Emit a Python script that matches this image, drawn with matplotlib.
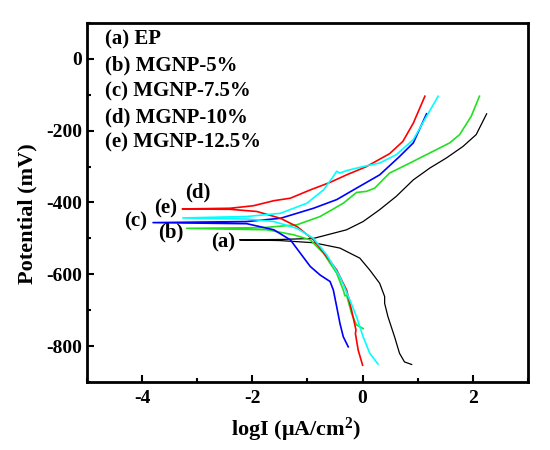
import matplotlib.pyplot as plt
from matplotlib.ticker import MultipleLocator

plt.rcParams['font.family'] = ['Liberation Serif', 'DejaVu Serif']
plt.rcParams['font.weight'] = 'bold'
plt.rcParams['axes.labelweight'] = 'bold'
plt.rcParams['axes.unicode_minus'] = False
plt.rcParams['mathtext.fontset'] = 'custom'
plt.rcParams['mathtext.bf'] = 'Liberation Serif:bold'
plt.rcParams['mathtext.rm'] = 'Liberation Serif:bold'
plt.rcParams['mathtext.default'] = 'bf'

# (a) EP
a_x = [0.89, 0.76, 0.67, 0.58, 0.46, 0.40, 0.40, 0.31, 0.13, -0.05, -0.41, -0.89, -1.5, -2.23,
       -1.5, -0.89, -0.29, 0.01, 0.31, 0.61, 0.92, 1.22, 1.52, 1.82, 2.06, 2.25]
a_y = [-851, -844, -820, -774, -718, -681, -662, -625, -588, -555, -527, -512, -506, -504,
       -503, -500, -476, -453, -420, -383, -337, -304, -276, -244, -211, -153]

# (b) MGNP-5%
b_x = [0.01, -0.11, -0.20, -0.29, -0.32, -0.35, -0.47, -0.71, -0.95, -1.25, -1.73, -3.19,
       -1.80, -1.19, -0.77, -0.35, -0.11, 0.07, 0.22, 0.49, 0.86, 1.22, 1.58, 1.76, 1.97, 2.12]
b_y = [-751, -741, -709, -658, -660, -644, -597, -541, -504, -490, -476, -472,
       -470, -462, -439, -402, -372, -369, -360, -318, -290, -262, -234, -211, -160, -104]

# (c) MGNP-7.5%
c_x = [-0.26, -0.35, -0.41, -0.47, -0.53, -0.59, -0.77, -0.95, -1.13, -1.31, -1.61, -2.10, -3.80,
       -2.10, -1.49, -0.89, -0.47, -0.11, 0.31, 0.67, 0.92, 1.16]
c_y = [-802, -774, -737, -690, -644, -620, -602, -578, -541, -504, -476, -459, -456,
       -453, -444, -416, -392, -360, -323, -272, -234, -153]

# (d) MGNP-10%
d_x = [0.00, -0.08, -0.13, -0.12, -0.20, -0.29, -0.47, -0.65, -0.89, -1.19, -1.49, -1.92, -2.40, -3.27,
       -2.40, -1.98, -1.61, -1.31, -0.95, -0.59, -0.29, 0.07, 0.49, 0.73, 0.92, 1.13]
d_y = [-853, -811, -765, -755, -700, -644, -588, -551, -504, -467, -444, -425, -419, -418,
       -416, -409, -395, -388, -365, -344, -323, -300, -264, -230, -179, -104]

# (e) MGNP-12.5%
e_x = [0.28, 0.13, 0.01, -0.11, -0.23, -0.41, -0.65, -0.89, -1.19, -1.61, -2.10, -3.26,
       -2.10, -1.49, -1.01, -0.71, -0.53, -0.47, -0.41, -0.29, 0.01, 0.31, 0.61, 0.92, 1.16, 1.37]
e_y = [-850, -820, -774, -718, -672, -607, -546, -500, -472, -453, -446, -443,
       -439, -430, -402, -365, -327, -313, -318, -311, -300, -290, -267, -225, -160, -104]

legend_lines = ['(a) EP', '(b) MGNP-5%', '(c) MGNP-7.5%', '(d) MGNP-10%', '(e) MGNP-12.5%']

fig = plt.figure(figsize=(5.5, 4.5), dpi=100)
ax = fig.add_axes([0.158, 0.151, 0.802, 0.798])

ax.plot(a_x, a_y, color='black', lw=0.9)
ax.plot(b_x, b_y, color='#22e022', lw=1.2)
ax.plot(c_x, c_y, color='#0000ff', lw=1.2)
ax.plot(d_x, d_y, color='#ff0000', lw=1.2)
ax.plot(e_x, e_y, color='#00ffff', lw=1.2)

fs = 15
ax.text(-2.98, -372, '(d)', fontsize=fs, ha='center', va='center')
ax.text(-3.57, -417, '(e)', fontsize=fs, ha='center', va='center')
ax.text(-4.11, -453, '(c)', fontsize=fs, ha='center', va='center')
ax.text(-3.48, -484, '(b)', fontsize=fs, ha='center', va='center')
ax.text(-2.52, -511, '(a)', fontsize=fs, ha='center', va='center')

for i, s in enumerate(legend_lines):
    ax.text(0.041, 0.953 - i * 0.0717, s, transform=ax.transAxes, fontsize=fs, va='center')

ax.set_xlim(-5, 3)
ax.set_ylim(-900, 100)
ax.xaxis.set_minor_locator(MultipleLocator(1))
ax.yaxis.set_minor_locator(MultipleLocator(100))
ax.set_xticks([-4, -2, 0, 2])
ax.set_yticks([0, -200, -400, -600, -800])
ax.tick_params(which='both', direction='in', top=False, right=False, width=1.5)
ax.tick_params(which='major', length=5, labelsize=14)
ax.tick_params(axis='x', which='major', pad=6)
ax.tick_params(which='minor', length=3)
for sp in ax.spines.values():
    sp.set_linewidth(2)

ax.set_xlabel('logI (μA/cm$^{2}$)', fontsize=16)
ax.set_ylabel('Potential (mV)', fontsize=16)
ax.xaxis.set_label_coords(0.474, -0.095)
ax.yaxis.set_label_coords(-0.111, 0.47)

fig.savefig('out.png', dpi=100)
